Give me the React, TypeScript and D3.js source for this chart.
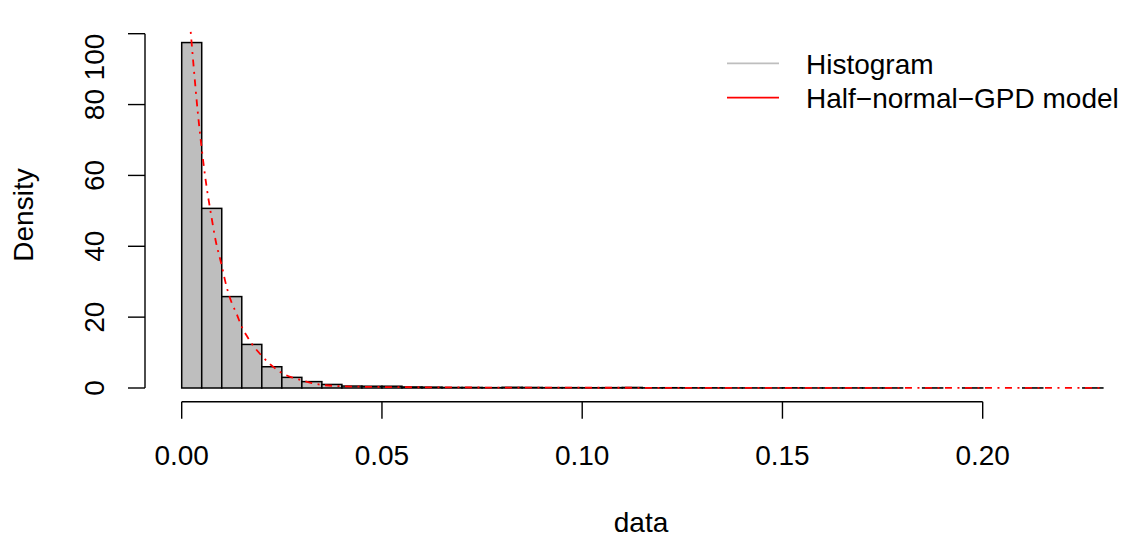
import { useEffect, useRef } from 'react'
import * as d3 from 'd3'

// histogram: densities per 0.005-wide bin, from 0 to 0.23
const BIN_WIDTH = 0.005
const density = [
  97.5, 50.7, 25.8, 12.3, 6.0, 3.0, 1.8, 1.0, 0.55, 0.5,
  0.5, 0.3, 0.25, 0.15, 0.15, 0.1, 0.2, 0.15, 0.1, 0.1,
  0.08, 0.1, 0.15, 0.05, 0.08, 0.05, 0.05, 0.03, 0.03, 0.02,
  0.05, 0.02, 0.02, 0.03, 0.02, 0.02, 0, 0.02, 0, 0.02,
  0, 0, 0.02, 0, 0, 0.02,
]

// fitted half-normal-GPD density
const curveX = [
  0.00225, 0.003, 0.004, 0.0049, 0.006, 0.0074, 0.0085, 0.0099, 0.0112, 0.0125,
  0.0137, 0.0149, 0.0162, 0.0175, 0.0199, 0.0225, 0.0249, 0.0275, 0.0299, 0.0325,
  0.0349, 0.04, 0.045, 0.05, 0.06, 0.08, 0.1, 0.15, 0.2, 0.23,
]
const curveY = [
  100.5, 90.5, 78, 68.5, 58.5, 48.5, 41.5, 35, 28.6, 24,
  21, 17.5, 14.8, 12.5, 9.2, 6.3, 4.3, 3.0, 2.2, 1.4,
  0.9, 0.5, 0.35, 0.28, 0.2, 0.12, 0.08, 0.04, 0.02, 0.015,
]

const xTicks = [0, 0.05, 0.1, 0.15, 0.2]
const xTickLabels = ['0.00', '0.05', '0.10', '0.15', '0.20']
const yTicks = [0, 20, 40, 60, 80, 100]

const legendLabels = ['Histogram', 'Half\u2212normal\u2212GPD model']
const legendColors = ['#BEBEBE', '#FF0000']

const W = 1132
const H = 540
const FONT = '"Liberation Sans", Arial, Helvetica, sans-serif'
const FS = 28

export default function App() {
  const svgRef = useRef<SVGSVGElement | null>(null)

  useEffect(() => {
    const svg = d3.select(svgRef.current)
    svg.selectAll('*').remove()

    const x = d3.scaleLinear().domain([0, 0.2]).range([181.7, 982.7])
    const y = d3.scaleLinear().domain([0, 100]).range([388, 33.7])
    const axisX = 145
    const axisY = 401.7
    const tickLen = 17

    // bars
    svg.append('g').selectAll('rect').data(density).join('rect')
      .attr('x', (_, i) => x(i * BIN_WIDTH))
      .attr('width', x(BIN_WIDTH) - x(0))
      .attr('y', d => y(d))
      .attr('height', d => y(0) - y(d))
      .attr('fill', '#BEBEBE')
      .attr('stroke', '#000')
      .attr('stroke-width', 1.5)

    // model curve, dot-dash
    const pts: [number, number][] = curveX.map((v, i) => [v, curveY[i]])
    const line = d3.line<[number, number]>().x(d => x(d[0])).y(d => y(d[1])).curve(d3.curveMonotoneX)
    svg.append('path').datum(pts)
      .attr('d', line)
      .attr('fill', 'none')
      .attr('stroke', '#FF0000')
      .attr('stroke-width', 1.8)
      .attr('stroke-dasharray', '2 5.5 7 5.5')

    // x axis
    const gx = svg.append('g').attr('stroke', '#000').attr('stroke-width', 1.4)
    gx.append('line').attr('x1', x(0)).attr('x2', x(0.2)).attr('y1', axisY).attr('y2', axisY)
    gx.selectAll('.t').data(xTicks).join('line').attr('class', 't')
      .attr('x1', d => x(d)).attr('x2', d => x(d)).attr('y1', axisY).attr('y2', axisY + tickLen)
    svg.append('g').selectAll('text').data(xTicks).join('text')
      .attr('x', d => x(d)).attr('y', 465)
      .attr('text-anchor', 'middle')
      .attr('font-family', FONT).attr('font-size', FS)
      .text((_, i) => xTickLabels[i])

    // y axis
    const gy = svg.append('g').attr('stroke', '#000').attr('stroke-width', 1.4)
    gy.append('line').attr('x1', axisX).attr('x2', axisX).attr('y1', y(0)).attr('y2', y(100))
    gy.selectAll('.t').data(yTicks).join('line').attr('class', 't')
      .attr('x1', axisX - tickLen).attr('x2', axisX).attr('y1', d => y(d)).attr('y2', d => y(d))
    svg.append('g').selectAll('text').data(yTicks).join('text')
      .attr('transform', d => `translate(103.5,${y(d)}) rotate(-90)`)
      .attr('text-anchor', 'middle')
      .attr('font-family', FONT).attr('font-size', FS)
      .text(d => String(d))
      .each(function (d) {
        // keep the top label inside the figure, as R does
        const len = (this as SVGTextElement).getComputedTextLength()
        if (y(d) - len / 2 < 20) d3.select(this).attr('text-anchor', 'end')
      })

    // axis titles
    svg.append('text')
      .attr('x', 641).attr('y', 532)
      .attr('text-anchor', 'middle')
      .attr('font-family', FONT).attr('font-size', FS)
      .text('data')
    svg.append('text')
      .attr('transform', 'translate(33.3,215) rotate(-90)')
      .attr('text-anchor', 'middle')
      .attr('font-family', FONT).attr('font-size', FS)
      .text('Density')

    // legend
    const legY = [63.3, 97.7]
    const lg = svg.append('g')
    legendLabels.forEach((lab, i) => {
      lg.append('line')
        .attr('x1', 727).attr('x2', 779).attr('y1', legY[i]).attr('y2', legY[i])
        .attr('stroke', legendColors[i]).attr('stroke-width', 1.8)
      lg.append('text')
        .attr('x', 806).attr('y', legY[i] + 10.5)
        .attr('font-family', FONT).attr('font-size', FS)
        .text(lab)
    })
  }, [])

  return (
    <svg
      ref={svgRef}
      width={W}
      height={H}
      style={{ position: 'fixed', top: 0, left: 0, background: '#fff', display: 'block' }}
    />
  )
}
